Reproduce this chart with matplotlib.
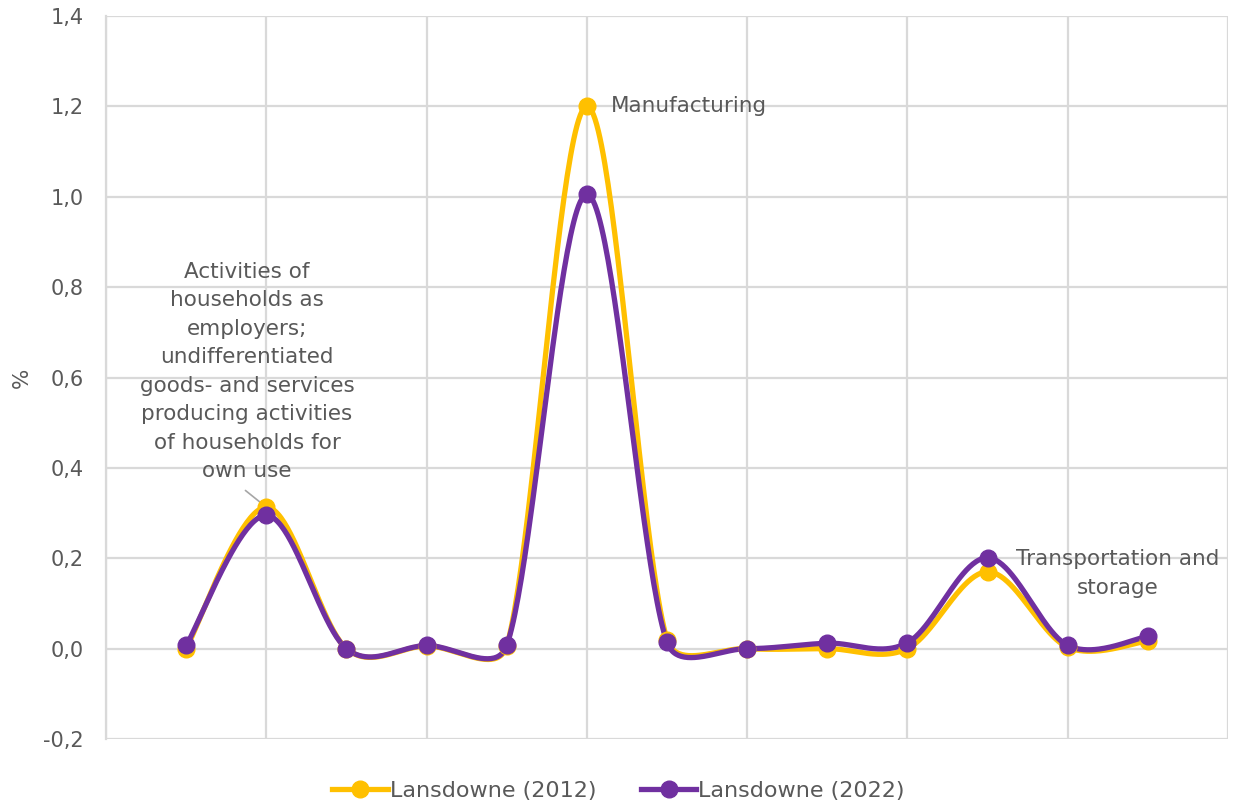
import numpy as np
import matplotlib
matplotlib.use("Agg")
import matplotlib.pyplot as plt

plt.rcParams['font.family'] = ['DejaVu Sans']

# Sector positions along the x axis and shares (%) per year
positions = [1, 2, 3, 4, 5, 6, 7, 8, 9, 10, 11, 12, 13]
share_2012 = [0.0, 0.313, 0.0, 0.006, 0.006, 1.20, 0.02, 0.0, 0.0, 0.0, 0.17, 0.003, 0.017]
share_2022 = [0.007, 0.295, 0.0, 0.007, 0.007, 1.005, 0.014, 0.0, 0.012, 0.013, 0.201, 0.007, 0.027]
series_names = ["Lansdowne (2012)", "Lansdowne (2022)"]
series_colors = ["#FFC000", "#7030A0"]
y_ticks = [-0.2, 0.0, 0.2, 0.4, 0.6, 0.8, 1.0, 1.2, 1.4]

label_households = ("Activities of\nhouseholds as\nemployers;\nundifferentiated\n"
                    "goods- and services\nproducing activities\nof households for\nown use")
label_manufacturing = "Manufacturing"
label_transport = "Transportation and\nstorage"

text_color = "#595959"
grid_color = "#D9D9D9"
FS = 15.5


def smooth_display(pts, n=50, clip=0.4):
    """Bezier smoothing through every point.  Tangents follow the neighbours
    (Catmull-Rom, length |T|/6) but each handle is capped to a share of the
    adjoining segment length, computed in display space."""
    pts = np.asarray(pts, float)
    m = len(pts)

    def ctrl(prev, cur, nxt, side):
        tang = nxt - prev
        norm = np.linalg.norm(tang)
        if norm == 0:
            return cur
        seg_len = np.linalg.norm((nxt if side > 0 else prev) - cur)
        length = min(norm / 6.0, clip * seg_len)
        return cur + side * tang / norm * length

    out = []
    for i in range(m - 1):
        p1, p2 = pts[i], pts[i + 1]
        p0 = pts[i - 1] if i > 0 else p1
        p3 = pts[i + 2] if i + 2 < m else p2
        c1 = ctrl(p0, p1, p2, +1)
        c2 = ctrl(p1, p2, p3, -1)
        t = np.linspace(0, 1, n)[:, None]
        seg = ((1 - t) ** 3) * p1 + 3 * ((1 - t) ** 2) * t * c1 + 3 * (1 - t) * t ** 2 * c2 + t ** 3 * p2
        if i > 0:
            seg = seg[1:]
        out.append(seg)
    return np.vstack(out)


fig = plt.figure(figsize=(12.37, 8.07), dpi=100)
ax = fig.add_axes([106 / 1237, 1 - 739 / 807, (1228 - 106) / 1237, (739 - 16) / 807])
ax.set_xlim(0, 14)
ax.set_ylim(-0.2, 1.4)

for vals, name, col in zip([share_2012, share_2022], series_names, series_colors):
    disp = ax.transData.transform(np.column_stack([positions, vals]))
    curve = ax.transData.inverted().transform(smooth_display(disp))
    ax.plot(curve[:, 0], curve[:, 1], color=col, lw=3.8, solid_capstyle='round', zorder=3)
    ax.plot(positions, vals, 'o', color=col, ms=12, zorder=4)
    ax.plot([], [], color=col, lw=3.8, marker='o', ms=12, label=name)

ax.set_yticks(y_ticks)
ax.set_yticklabels([f"{v:.1f}".replace('.', ',') for v in y_ticks])
ax.set_xticks(np.arange(0, 15, 2))
ax.set_xticklabels([])
ax.tick_params(axis='both', length=0, labelsize=15, colors=text_color, pad=16)
ax.grid(True, color=grid_color, lw=1.6)
ax.set_axisbelow(True)
for side in ['top', 'right', 'bottom']:
    ax.spines[side].set_visible(False)
ax.spines['left'].set_color(grid_color)
ax.spines['left'].set_linewidth(1.6)

ax.set_ylabel("%", fontsize=FS, color=text_color, labelpad=8)

# Annotations
ax.annotate(label_manufacturing, xy=(positions[5], share_2012[5]), xytext=(17, 0),
            textcoords='offset points', ha='left', va='center', fontsize=FS, color=text_color)
ax.text(12.62, 0.166, label_transport, ha='center', va='center',
        fontsize=FS, color=text_color, linespacing=1.53)
ax.text(1.76, 0.613, label_households, ha='center', va='center',
        fontsize=FS, color=text_color, linespacing=1.53)
ax.annotate("", xy=(positions[1], share_2012[1]), xytext=(1.74, 0.35),
            arrowprops=dict(arrowstyle='-', color='#A6A6A6', lw=1.2, shrinkA=0, shrinkB=1))

leg = fig.legend(loc='center', bbox_to_anchor=(0.5, 1 - 791 / 807), ncol=2, frameon=False,
                 fontsize=16, handlelength=2.5, handletextpad=0.1, columnspacing=2.0)
for t in leg.get_texts():
    t.set_color(text_color)

fig.savefig("out.png", dpi=100)
